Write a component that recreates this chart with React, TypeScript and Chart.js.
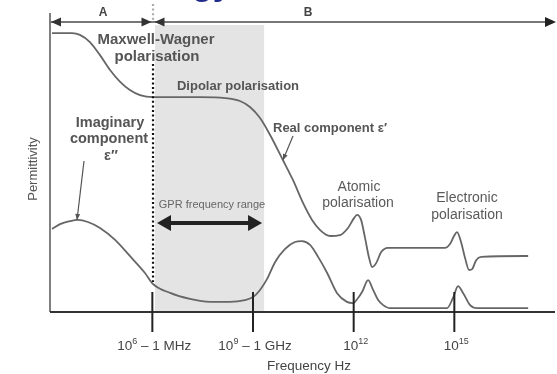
import React, { useEffect, useRef } from "react";
import { Chart, registerables } from "chart.js";
Chart.register(...registerables);

// log10(frequency / Hz) samples and permittivity (arbitrary units, 0-100)
const realLogF = [3.01, 3.31, 3.61, 3.84, 4.14, 4.44, 4.74, 5.04, 5.33, 5.63, 6.02, 6.68, 7.42, 8.17, 8.61, 8.91, 9.21, 9.51, 9.89, 10.19, 10.49, 10.76, 11.0, 11.3, 11.59, 11.83, 12.01, 12.1, 12.22, 12.34, 12.46, 12.55, 12.67, 12.82, 13.02, 14.72, 14.87, 14.99, 15.08, 15.2, 15.32, 15.44, 15.53, 15.65, 15.8, 17.2];
const realEps = [93.6, 93.6, 93.6, 93.0, 90.6, 86.2, 81.2, 77.2, 74.5, 72.8, 72.1, 72.1, 72.1, 71.8, 70.8, 68.8, 65.1, 59.4, 51.0, 44.3, 36.6, 30.9, 27.5, 25.5, 25.8, 28.2, 31.5, 32.6, 30.9, 24.8, 18.1, 15.1, 16.4, 20.1, 21.5, 21.5, 22.8, 25.5, 26.8, 23.5, 18.1, 14.1, 14.4, 17.4, 18.5, 18.8];

const imagLogF = [3.01, 3.25, 3.55, 3.78, 4.08, 4.44, 4.89, 5.33, 5.78, 6.02, 6.53, 7.12, 7.72, 8.31, 8.76, 9.0, 9.21, 9.42, 9.66, 9.95, 10.25, 10.46, 10.7, 10.94, 11.21, 11.5, 11.8, 11.98, 12.13, 12.25, 12.43, 12.58, 12.73, 12.88, 13.08, 14.78, 14.96, 15.11, 15.26, 15.47, 15.68, 17.2];
const imagEps = [27.9, 29.5, 30.5, 30.9, 30.2, 28.2, 24.2, 18.8, 13.1, 9.4, 6.4, 4.4, 3.4, 3.4, 4.0, 5.0, 7.4, 11.1, 16.8, 21.1, 23.5, 23.8, 22.5, 18.5, 13.1, 6.4, 3.4, 3.0, 4.7, 6.7, 10.7, 7.4, 4.0, 2.3, 1.3, 1.3, 4.7, 8.7, 6.4, 2.3, 1.3, 1.3];

const tickDecades = [6, 9, 12, 15];
const tickExponents = ["6", "9", "12", "15"];
const tickSuffixes = [" – 1 MHz", " – 1 GHz", "", ""];
const gprRange = [6.08, 9.33];
const regionSplit = 6.02;
const X_MIN = 2.95;
const X_MAX = 18;

const FONT = '"Liberation Sans", Arial, Helvetica, sans-serif';

function arrowHead(ctx: CanvasRenderingContext2D, x: number, y: number, dir: number, len: number, half: number, color: string) {
  ctx.save();
  ctx.fillStyle = color;
  ctx.beginPath();
  ctx.moveTo(x, y);
  ctx.lineTo(x - dir * len, y - half);
  ctx.lineTo(x - dir * len, y + half);
  ctx.closePath();
  ctx.fill();
  ctx.restore();
}

function pointer(ctx: CanvasRenderingContext2D, x1: number, y1: number, x2: number, y2: number) {
  ctx.save();
  ctx.strokeStyle = "#555";
  ctx.fillStyle = "#555";
  ctx.lineWidth = 1.2;
  ctx.beginPath();
  ctx.moveTo(x1, y1);
  ctx.lineTo(x2, y2);
  ctx.stroke();
  const a = Math.atan2(y2 - y1, x2 - x1);
  ctx.translate(x2, y2);
  ctx.rotate(a);
  ctx.beginPath();
  ctx.moveTo(0, 0);
  ctx.lineTo(-6, -2.5);
  ctx.lineTo(-6, 2.5);
  ctx.closePath();
  ctx.fill();
  ctx.restore();
}

const decorPlugin = {
  id: "decor",
  beforeDatasetsDraw(chart: any) {
    const ctx: CanvasRenderingContext2D = chart.ctx;
    const xs = chart.scales.x;
    const area = chart.chartArea;
    ctx.save();
    ctx.fillStyle = "#e4e4e4";
    const gx1 = xs.getPixelForValue(gprRange[0]);
    const gx2 = xs.getPixelForValue(gprRange[1]);
    ctx.fillRect(gx1, area.top + 11, gx2 - gx1, area.bottom - area.top - 11);
    ctx.restore();
  },
  afterDatasetsDraw(chart: any) {
    const ctx: CanvasRenderingContext2D = chart.ctx;
    const xs = chart.scales.x;
    const area = chart.chartArea;
    const L = area.left, B = area.bottom, T = area.top;
    const splitX = xs.getPixelForValue(regionSplit);
    ctx.save();

    // dotted divider
    ctx.strokeStyle = "#111";
    ctx.lineWidth = 2.2;
    ctx.setLineDash([2, 2.6]);
    ctx.beginPath();
    ctx.moveTo(splitX, 64);
    ctx.lineTo(splitX, 282);
    ctx.stroke();
    ctx.strokeStyle = "#aaa";
    ctx.beginPath();
    ctx.moveTo(splitX, 4);
    ctx.lineTo(splitX, 20);
    ctx.stroke();
    ctx.setLineDash([]);

    // axes
    ctx.strokeStyle = "#555";
    ctx.lineWidth = 1.5;
    ctx.beginPath();
    ctx.moveTo(L, T - 1);
    ctx.lineTo(L, B);
    ctx.stroke();
    ctx.strokeStyle = "#333";
    ctx.lineWidth = 2;
    ctx.beginPath();
    ctx.moveTo(L, B);
    ctx.lineTo(area.right, B);
    ctx.stroke();

    // ticks
    ctx.strokeStyle = "#222";
    ctx.lineWidth = 2;
    tickDecades.forEach((d) => {
      const x = xs.getPixelForValue(d);
      ctx.beginPath();
      ctx.moveTo(x, B - 20);
      ctx.lineTo(x, B + 20);
      ctx.stroke();
    });

    // tick labels
    ctx.fillStyle = "#444";
    ctx.textBaseline = "alphabetic";
    tickDecades.forEach((d, i) => {
      const cx = xs.getPixelForValue(d) + 2;
      const base = "10";
      ctx.font = `13.5px ${FONT}`;
      const wb = ctx.measureText(base).width;
      const ws = ctx.measureText(tickSuffixes[i]).width;
      ctx.font = `9px ${FONT}`;
      const we = ctx.measureText(tickExponents[i]).width;
      let x = cx - (wb + we + ws) / 2;
      const y = 350;
      ctx.textAlign = "left";
      ctx.font = `13.5px ${FONT}`;
      ctx.fillText(base, x, y);
      x += wb;
      ctx.font = `9px ${FONT}`;
      ctx.fillText(tickExponents[i], x, y - 6);
      x += we;
      ctx.font = `13.5px ${FONT}`;
      ctx.fillText(tickSuffixes[i], x, y);
    });
    ctx.textAlign = "center";
    ctx.font = `13.5px ${FONT}`;
    ctx.fillText("Frequency Hz", 309, 370);

    // y-axis title
    ctx.save();
    ctx.translate(33, 169);
    ctx.rotate(-Math.PI / 2);
    ctx.textAlign = "center";
    ctx.textBaseline = "middle";
    ctx.font = `13px ${FONT}`;
    ctx.fillStyle = "#555";
    ctx.fillText("Permittivity", 0, 0);
    ctx.restore();

    // region arrows A / B
    const ay = 22;
    ctx.strokeStyle = "#777";
    ctx.lineWidth = 2;
    ctx.beginPath();
    ctx.moveTo(L, ay);
    ctx.lineTo(area.right - 4, ay);
    ctx.stroke();
    arrowHead(ctx, L + 1, ay, -1, 10, 4.5, "#333");
    arrowHead(ctx, splitX - 1.5, ay, 1, 10, 4.5, "#333");
    arrowHead(ctx, splitX + 1.5, ay, -1, 10, 4.5, "#333");
    arrowHead(ctx, area.right + 1, ay, 1, 11, 5, "#222");
    ctx.fillStyle = "#444";
    ctx.font = `bold 12px ${FONT}`;
    ctx.textAlign = "center";
    ctx.textBaseline = "middle";
    ctx.fillText("A", 103, 13);
    ctx.fillText("B", 308, 13);

    // bold labels
    ctx.fillStyle = "#555";
    ctx.font = `bold 15px ${FONT}`;
    ctx.fillText("Maxwell-Wagner", 156, 40);
    ctx.fillText("polarisation", 157, 57);
    ctx.font = `bold 13px ${FONT}`;
    ctx.fillText("Dipolar polarisation", 238, 86);
    ctx.textAlign = "left";
    ctx.fillText("Real component ε′", 273, 128);
    ctx.textAlign = "center";
    ctx.font = `bold 14.5px ${FONT}`;
    ctx.fillText("Imaginary", 110, 123);
    ctx.fillText("component", 109, 139);
    ctx.fillText("ε″", 111, 156);

    // regular labels
    ctx.fillStyle = "#5a5a5a";
    ctx.font = `14px ${FONT}`;
    ctx.fillText("Atomic", 359, 187);
    ctx.fillText("polarisation", 358, 203);
    ctx.fillText("Electronic", 467, 198);
    ctx.fillText("polarisation", 467, 215);
    ctx.font = `11px ${FONT}`;
    ctx.fillStyle = "#666";
    ctx.fillText("GPR frequency range", 212, 205);

    // GPR double arrow
    const gx1 = xs.getPixelForValue(gprRange[0]) + 2;
    const gx2 = xs.getPixelForValue(gprRange[1]) - 2;
    ctx.strokeStyle = "#222";
    ctx.lineWidth = 4;
    ctx.beginPath();
    ctx.moveTo(gx1 + 10, 223);
    ctx.lineTo(gx2 - 10, 223);
    ctx.stroke();
    arrowHead(ctx, gx1, 223, -1, 14, 8, "#222");
    arrowHead(ctx, gx2, 223, 1, 14, 8, "#222");

    // pointers
    pointer(ctx, 293, 136, 283, 160);
    pointer(ctx, 84, 161, 77, 220);

    // cropped title fragment at the very top
    ctx.fillStyle = "#1f2a8a";
    ctx.font = `bold 34px ${FONT}`;
    ctx.textAlign = "left";
    ctx.textBaseline = "alphabetic";
    ctx.fillText("gy", 192, -5);

    ctx.restore();
  },
};

export default function App() {
  const ref = useRef<HTMLCanvasElement | null>(null);
  useEffect(() => {
    if (!ref.current) return;
    const chart = new Chart(ref.current, {
      type: "line",
      data: {
        datasets: [
          {
            label: "Real component ε′",
            data: realLogF.map((x, i) => ({ x, y: realEps[i] })),
            borderColor: "#666",
            borderWidth: 1.8,
            pointRadius: 0,
            cubicInterpolationMode: "monotone",
            fill: false,
          },
          {
            label: "Imaginary component ε″",
            data: imagLogF.map((x, i) => ({ x, y: imagEps[i] })),
            borderColor: "#666",
            borderWidth: 1.8,
            pointRadius: 0,
            cubicInterpolationMode: "monotone",
            fill: false,
          },
        ],
      },
      options: {
        animation: false,
        responsive: false,
        devicePixelRatio: 1,
        layout: { padding: { left: 50, right: 2, top: 14, bottom: 62 } },
        plugins: { legend: { display: false }, tooltip: { enabled: false } },
        scales: {
          x: { type: "linear", min: X_MIN, max: X_MAX, display: false },
          y: { type: "linear", min: 0, max: 100, display: false },
        },
      },
      plugins: [decorPlugin],
    } as any);
    return () => chart.destroy();
  }, []);
  return (
    <div style={{ position: "fixed", left: 0, top: 0, width: 557, height: 374, background: "#fff" }}>
      <canvas ref={ref} width={557} height={374} style={{ display: "block", width: 557, height: 374 }} />
    </div>
  );
}
